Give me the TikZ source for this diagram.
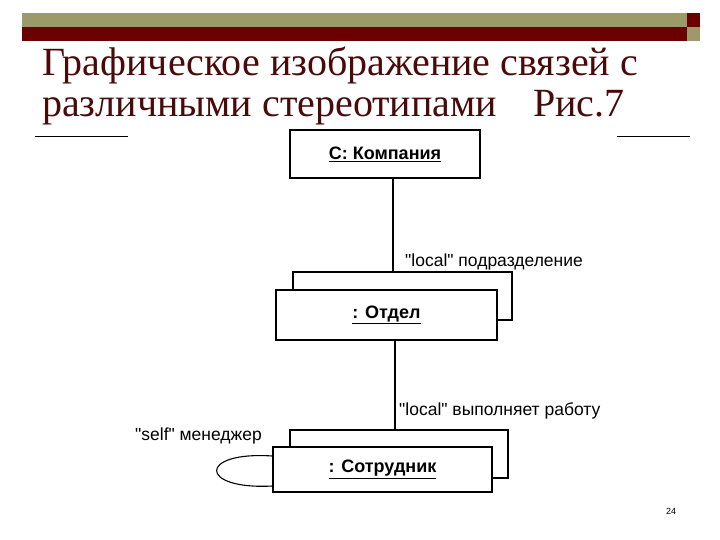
\documentclass[tikz,border=0pt]{standalone}
\usepackage{fontspec}
\setmainfont{Liberation Serif}
\newfontfamily\diag{Liberation Sans}
\definecolor{olive}{HTML}{9C9A6B}
\definecolor{dred}{HTML}{6B0000}
\definecolor{ttl}{HTML}{4A0A0A}
\begin{document}
\begin{tikzpicture}[x=1pt,y=-1pt,
  obj/.style={draw,line width=1.3pt,fill=white,font=\diag\bfseries\fontsize{18}{20}\selectfont},
  lbl/.style={font=\diag\fontsize{17.5}{19}\selectfont,anchor=west,inner sep=0}]
\useasboundingbox (0,0) rectangle (720,540);
\fill[olive] (22,13) rectangle (687,27);
\fill[dred] (22,27) rectangle (687,41);
\fill[dred] (687,13) rectangle (700,27);
\fill[olive] (687,27) rectangle (700,41);
\node[anchor=base west,text=ttl,font=\fontsize{40}{44}\selectfont,inner sep=0] (t1) at (42,76) {Графическое изображение связей с};
\node[anchor=base west,text=ttl,font=\fontsize{40}{44}\selectfont,inner sep=0] (t2) at (42,117) {различными стереотипами\hspace{0.9em}Рис.7};
\draw[line width=0.8pt] (35,136) -- (128,136);
\draw[line width=0.8pt] (617,136) -- (690,136);
% boxes
\node[obj,minimum width=190pt,minimum height=48pt] (k) at (385,154) {\underline{С: Компания}};
\draw[obj] (293,272) rectangle (512,320);
\node[obj,minimum width=221pt,minimum height=50pt] (o) at (386.5,315) {\underline{: Отдел}};
\draw[obj] (290,430) rectangle (508,478);
\node[obj,minimum width=219pt,minimum height=45pt] (s) at (382.5,469.5) {\underline{: Сотрудник}};
\coordinate (ob) at (393,272);
\coordinate (sb) at (395,430);
\draw[line width=1.3pt] (k.south -| ob) -- (ob);
\draw[line width=1.3pt] (o.south -| sb) -- (sb);
\draw[line width=1.1pt] (s.west |- 0,456) .. controls (198,451) and (198,490) .. (s.west |- 0,486);
\node[lbl] (l1) at (405,262) {"local" подразделение};
\node[lbl] (l2) at (399,411) {"local" выполняет работу};
\node[lbl] (l3) at (135,436) {"self" менеджер};
\node[font=\diag\fontsize{9}{10}\selectfont] (n) at (671,511) {24};
\end{tikzpicture}
\end{document}
